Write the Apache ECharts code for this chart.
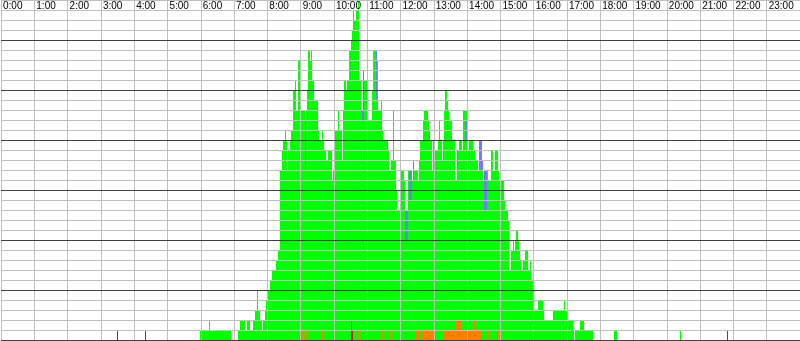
<!DOCTYPE html>
<html>
<head>
<meta charset="utf-8">
<script src="https://cdn.jsdelivr.net/npm/echarts@6/dist/echarts.min.js"></script>
<style>
  html, body { margin: 0; padding: 0; background: #fff; }
  #chart { width: 800px; height: 341px; }
</style>
</head>
<body>
<div id="chart"></div>
<script>
// x values are minutes of the day, y values are counts (one cell each)
const hourLabels = ['0:00', '1:00', '2:00', '3:00', '4:00', '5:00', '6:00', '7:00', '8:00', '9:00',
  '10:00', '11:00', '12:00', '13:00', '14:00', '15:00', '16:00', '17:00', '18:00', '19:00',
  '20:00', '21:00', '22:00', '23:00'];
const majorLines = [0, 5, 10, 15, 20, 25, 30];

// [start minute, end minute, total count]
const totalRuns = [
  [358, 374, 1], [374, 376, 2], [376, 414, 1],
  [428, 430, 1], [430, 439, 2], [439, 443, 1], [443, 448, 2], [448, 455, 1], [455, 457, 2], [457, 461, 3],
  [461, 463, 5], [463, 466, 3], [466, 470, 2], [470, 472, 1], [472, 475, 2], [475, 477, 3], [477, 482, 4],
  [482, 484, 5], [484, 488, 6], [488, 495, 7], [495, 500, 8], [500, 502, 9],
  [502, 506, 17], [506, 509, 19], [509, 511, 20], [511, 513, 21], [513, 515, 20], [515, 517, 17], [517, 518, 16],
  [518, 520, 19], [520, 522, 20], [522, 526, 21], [526, 529, 25], [529, 531, 26], [531, 535, 23], [535, 536, 25],
  [536, 538, 28], [538, 540, 26], [540, 547, 23], [547, 549, 22], [549, 551, 23], [551, 553, 25], [553, 554, 27],
  [554, 556, 29], [556, 558, 28], [558, 560, 29], [560, 562, 26], [562, 563, 25], [563, 565, 26], [565, 572, 24],
  [572, 574, 21], [574, 578, 20], [578, 580, 21], [580, 581, 20], [581, 585, 19], [585, 590, 18], [590, 596, 19],
  [596, 598, 16], [598, 601, 17], [601, 607, 21], [607, 610, 23], [610, 614, 21], [614, 616, 18], [616, 617, 19],
  [617, 619, 23], [619, 621, 26], [621, 623, 25], [623, 628, 26], [628, 630, 29], [630, 632, 30], [632, 635, 31],
  [635, 637, 33], [637, 639, 32], [639, 643, 33], [643, 644, 34], [644, 646, 28], [646, 648, 26], [648, 653, 23],
  [653, 655, 27], [655, 659, 26], [659, 668, 22], [668, 670, 25], [670, 677, 29], [677, 679, 28], [679, 684, 23],
  [684, 686, 24], [686, 689, 21], [689, 697, 20], [697, 698, 19], [698, 702, 17],
  [702, 706, 18], [706, 709, 23], [709, 711, 18], [711, 713, 15], [713, 720, 13], [720, 727, 17], [727, 729, 16],
  [729, 733, 13], [733, 740, 17], [740, 742, 16], [742, 743, 18], [743, 751, 17], [751, 754, 16], [754, 756, 18],
  [756, 761, 20], [761, 763, 22], [763, 769, 23], [769, 772, 22], [772, 774, 21], [774, 776, 20], [776, 779, 17],
  [779, 781, 20], [781, 788, 19], [788, 790, 20], [790, 792, 22], [792, 794, 20], [794, 797, 18], [797, 799, 20],
  [799, 801, 23], [801, 803, 25], [803, 806, 24], [806, 808, 23], [808, 812, 22], [812, 819, 20], [819, 821, 16],
  [821, 826, 19], [826, 830, 20], [830, 832, 19], [832, 839, 23], [839, 841, 22], [841, 844, 19], [844, 850, 20],
  [850, 855, 19], [855, 859, 18], [859, 862, 17], [862, 866, 20], [866, 868, 18], [868, 871, 16], [871, 878, 17],
  [878, 884, 16], [884, 887, 19], [887, 891, 17], [891, 895, 19], [895, 898, 17], [898, 907, 16], [907, 909, 14],
  [909, 913, 13], [913, 914, 12], [914, 916, 11], [916, 920, 7], [920, 923, 9], [923, 925, 10], [925, 927, 9],
  [927, 929, 10], [929, 931, 11], [931, 934, 10], [934, 936, 9], [936, 938, 8], [938, 940, 7], [940, 941, 6],
  [941, 945, 8], [945, 950, 9], [950, 954, 7], [954, 956, 8], [956, 958, 6], [958, 959, 5], [959, 968, 3],
  [968, 976, 4], [976, 977, 3], [977, 994, 2], [994, 1015, 3], [1015, 1017, 4], [1017, 1022, 3], [1022, 1030, 2],
  [1030, 1031, 1], [1035, 1044, 1], [1044, 1051, 2], [1051, 1067, 1], [1105, 1111, 1], [1224, 1226, 1]
];

// [start minute, end minute, count] sitting at the bottom of the column
const orangeRuns = [
  [542, 544, 1], [547, 553, 1], [558, 560, 1], [578, 583, 1], [643, 646, 1], [684, 689, 1], [700, 704, 1],
  [725, 727, 1], [747, 756, 1], [758, 779, 1], [796, 819, 1], [819, 830, 2], [830, 853, 1], [853, 855, 2],
  [855, 866, 1], [868, 869, 1], [877, 880, 1], [886, 889, 1], [896, 900, 1]
];
const redRuns = [
  [209, 211, 1], [259, 261, 1], [630, 632, 2], [632, 635, 1], [1308, 1310, 1]
];
// [start minute, end minute, from count, to count]
const blueRuns = [
  [547, 549, 17, 22], [650, 653, 22, 23], [653, 655, 22, 27], [675, 677, 24, 29], [729, 733, 10, 13],
  [736, 740, 14, 17], [742, 743, 16, 18], [803, 806, 21, 23], [821, 823, 17, 19], [837, 839, 20, 22],
  [862, 866, 17, 20], [866, 868, 17, 18], [871, 875, 13, 17]
];

const chart = echarts.init(document.getElementById('chart'));

function cells(color) {
  return function (params, api) {
    const p0 = api.coord([api.value(0), api.value(2)]);
    const p1 = api.coord([api.value(1), api.value(3)]);
    const x0 = Math.round(p0[0]);
    const x1 = Math.round(p1[0]);
    const yb = Math.round(p0[1]);
    const yt = Math.round(p1[1]);
    return {
      type: 'rect',
      shape: { x: x0, y: yt, width: Math.max(x1 - x0, 1), height: yb - yt },
      style: { fill: color }
    };
  };
}

function cellSeries(name, color, data) {
  return {
    name: name,
    type: 'custom',
    renderItem: cells(color),
    encode: { x: [0, 1], y: [2, 3] },
    data: data,
    z: 2,
    silent: true
  };
}

const option = {
  animation: false,
  backgroundColor: '#fff',
  grid: { left: 0, right: 0, top: 0, bottom: 1 },
  xAxis: {
    type: 'value',
    position: 'top',
    min: 0,
    max: 1440,
    interval: 60,
    z: 5,
    axisLine: { show: false },
    axisTick: { show: false },
    axisLabel: {
      inside: true,
      margin: 1,
      align: 'left',
      color: '#000',
      fontSize: 10,
      fontFamily: 'Liberation Sans',
      padding: [0, 0, 0, 2],
      showMaxLabel: false,
      formatter: v => hourLabels[v / 60] || ''
    },
    splitLine: { show: true, lineStyle: { color: '#c0c0c0', width: 1 } }
  },
  yAxis: {
    type: 'value',
    min: 0,
    max: 34,
    interval: 1,
    z: 5,
    axisLine: { show: false },
    axisTick: { show: false },
    axisLabel: { show: false },
    splitLine: { show: true, lineStyle: { color: '#c0c0c0', width: 1 } }
  },
  series: [
    cellSeries('total', '#00ff00', totalRuns.map(r => [r[0], r[1], 0, r[2]])),
    cellSeries('orange', '#ff8000', orangeRuns.map(r => [r[0], r[1], 0, r[2]])),
    cellSeries('red', '#ff0000', redRuns.map(r => [r[0], r[1], 0, r[2]])),
    cellSeries('blue', '#7878ff', blueRuns),
    {
      type: 'line',
      data: [],
      z: 10,
      silent: true,
      markLine: {
        silent: true,
        symbol: 'none',
        animation: false,
        label: { show: false },
        lineStyle: { color: '#404040', width: 1, type: 'solid' },
        data: majorLines.map(v => ({ yAxis: v }))
      }
    }
  ]
};

chart.setOption(option);
</script>
</body>
</html>
